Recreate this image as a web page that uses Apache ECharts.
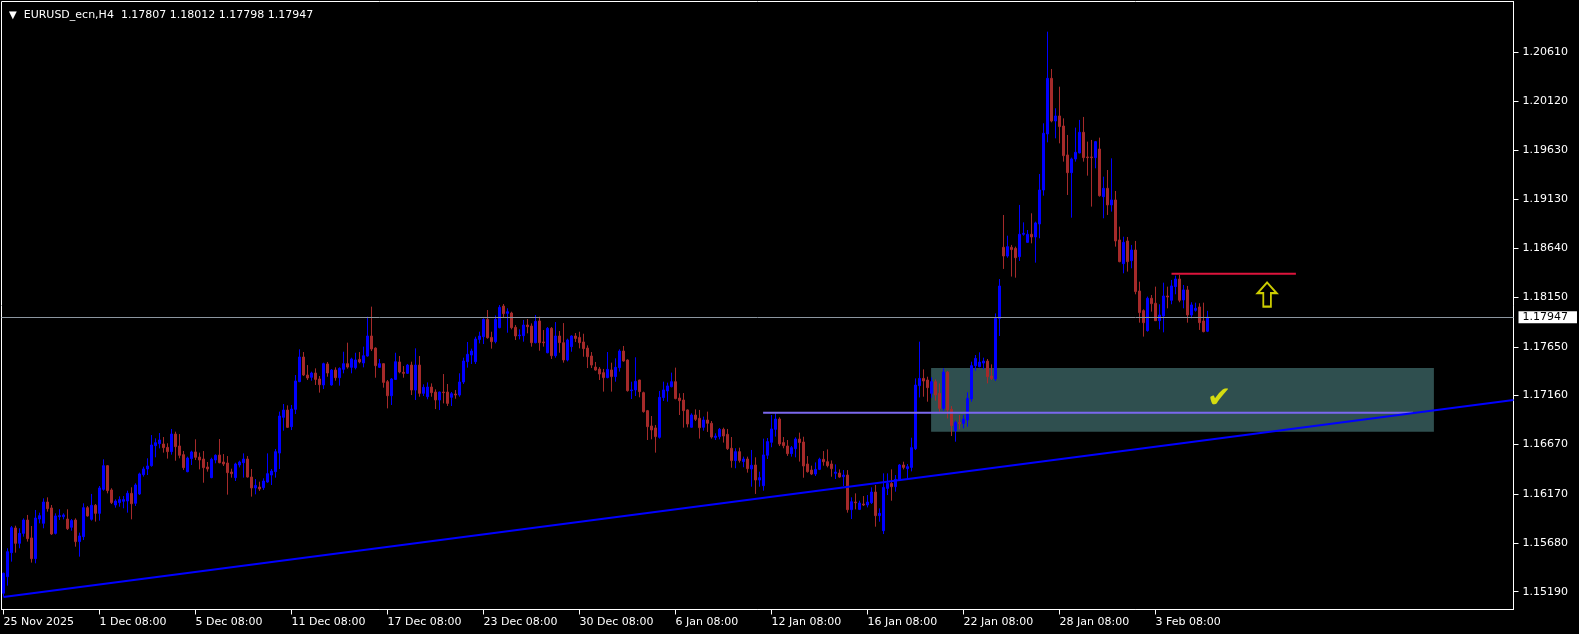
<!DOCTYPE html>
<html><head><meta charset="utf-8">
<script src="https://cdn.jsdelivr.net/npm/echarts@6/dist/echarts.min.js"></script>
<style>html,body{margin:0;padding:0;background:#000;}#c{width:1579px;height:634px;}</style>
</head><body><div id="c"></div>
<script>
const symbolName = 'EURUSD_ecn,H4';
const tickLabels = ['25 Nov 2025','1 Dec 08:00','5 Dec 08:00','11 Dec 08:00','17 Dec 08:00','23 Dec 08:00','30 Dec 08:00','6 Jan 08:00','12 Jan 08:00','16 Jan 08:00','22 Jan 08:00','28 Jan 08:00','3 Feb 08:00'];
const tickStep = 24;
const slotCount = 378;
const priceTicks = [1.15190,1.15680,1.16170,1.16670,1.17160,1.17650,1.18150,1.18640,1.19130,1.19630,1.20120,1.20610];
const yMin = 1.15011, yMax = 1.21120;

const open = [
1.15174,1.15341,1.15582,1.15830,1.15676,1.15776,1.15910,1.15730,1.15522,1.15920,
1.15877,1.16091,1.16031,1.15776,1.15944,1.15944,1.15920,1.15837,1.15910,1.15693,
1.15743,1.16034,1.15917,1.16058,1.15977,1.16218,1.16456,1.16212,1.16061,1.16085,
1.16098,1.16101,1.16178,1.16078,1.16172,1.16366,1.16423,1.16456,1.16657,1.16677,
1.16674,1.16640,1.16597,1.16774,1.16654,1.16567,1.16396,1.16527,1.16594,1.16543,
1.16523,1.16443,1.16336,1.16513,1.16563,1.16493,1.16483,1.16392,1.16336,1.16463,
1.16486,1.16523,1.16342,1.16232,1.16242,1.16235,1.16292,1.16362,1.16396,1.16583,
1.16942,1.17015,1.16848,1.17022,1.17300,1.17548,1.17367,1.17344,1.17387,1.17327,
1.17267,1.17478,1.17267,1.17417,1.17340,1.17424,1.17481,1.17444,1.17441,1.17524,
1.17488,1.17558,1.17759,1.17638,1.17444,1.17481,1.17300,1.17159,1.17323,1.17498,
1.17394,1.17384,1.17467,1.17216,1.17467,1.17183,1.17149,1.17246,1.17196,1.17116,
1.17196,1.17196,1.17143,1.17176,1.17166,1.17297,1.17501,1.17568,1.17501,1.17725,
1.17752,1.17926,1.17745,1.17702,1.17843,1.18060,1.17987,1.17990,1.17846,1.17762,
1.17762,1.17869,1.17859,1.17692,1.17910,1.17699,1.17591,1.17836,1.17561,1.17759,
1.17692,1.17518,1.17652,1.17759,1.17745,1.17699,1.17638,1.17558,1.17447,1.17427,
1.17391,1.17341,1.17418,1.17351,1.17441,1.17608,1.17518,1.17210,1.17217,1.17317,
1.17190,1.17009,1.16855,1.16835,1.16741,1.17140,1.17207,1.17250,1.17300,1.17136,
1.17116,1.17016,1.16842,1.16965,1.16932,1.16842,1.16915,1.16882,1.16738,1.16748,
1.16821,1.16771,1.16631,1.16507,1.16597,1.16497,1.16523,1.16423,1.16463,1.16312,
1.16255,1.16561,1.16691,1.16821,1.16925,1.16688,1.16654,1.16577,1.16627,1.16724,
1.16694,1.16473,1.16412,1.16372,1.16419,1.16520,1.16496,1.16473,1.16379,1.16382,
1.16345,1.16362,1.16014,1.16091,1.16017,1.16071,1.16061,1.16084,1.16191,1.15954,
1.15803,1.16228,1.16278,1.16245,1.16312,1.16463,1.16426,1.16439,1.16627,1.17260,
1.17333,1.17317,1.17183,1.17300,1.17183,1.17032,1.17397,1.17022,1.16808,1.16891,
1.16881,1.16915,1.17126,1.17461,1.17451,1.17487,1.17507,1.17357,1.17327,1.17936,
1.18650,1.18563,1.18650,1.18640,1.18556,1.18781,1.18700,1.18781,1.18754,1.18885,
1.19226,1.19789,1.20348,1.19919,1.19970,1.19869,1.19578,1.19400,1.19538,1.19598,
1.19806,1.19558,1.19558,1.19551,1.19638,1.19159,1.19243,1.19076,1.19126,1.18724,
1.18486,1.18714,1.18516,1.18623,1.18211,1.18014,1.17813,1.18138,1.18088,1.17913,
1.17960,1.18161,1.18118,1.18255,1.18332,1.18121,1.18222,1.17970,1.18017,1.18051,
1.17910,1.17807];

const high = [
1.15381,1.15626,1.15850,1.15853,1.15827,1.15927,1.15961,1.15850,1.16011,1.15984,
1.16128,1.16138,1.16061,1.15977,1.16018,1.15977,1.16018,1.15920,1.15927,1.15783,
1.16078,1.16051,1.16172,1.16071,1.16252,1.16520,1.16463,1.16229,1.16118,1.16148,
1.16151,1.16205,1.16239,1.16279,1.16386,1.16446,1.16530,1.16764,1.16731,1.16784,
1.16744,1.16681,1.16825,1.16798,1.16774,1.16604,1.16547,1.16607,1.16721,1.16587,
1.16603,1.16493,1.16536,1.16570,1.16724,1.16573,1.16553,1.16426,1.16486,1.16506,
1.16580,1.16553,1.16423,1.16322,1.16295,1.16329,1.16580,1.16423,1.16624,1.16999,
1.17076,1.17062,1.17066,1.17367,1.17625,1.17598,1.17467,1.17400,1.17434,1.17357,
1.17491,1.17498,1.17427,1.17444,1.17444,1.17601,1.17692,1.17541,1.17591,1.17598,
1.17652,1.17953,1.18054,1.17645,1.17528,1.17485,1.17317,1.17337,1.17591,1.17558,
1.17457,1.17478,1.17501,1.17635,1.17558,1.17273,1.17293,1.17283,1.17223,1.17200,
1.17377,1.17277,1.17196,1.17216,1.17384,1.17541,1.17699,1.17632,1.17752,1.17802,
1.17936,1.18020,1.17802,1.17966,1.18070,1.18080,1.18037,1.18003,1.17869,1.17826,
1.17920,1.17930,1.17886,1.17970,1.17953,1.17819,1.17849,1.17849,1.17899,1.17809,
1.17889,1.17732,1.17766,1.17789,1.17802,1.17782,1.17665,1.17598,1.17498,1.17447,
1.17428,1.17598,1.17491,1.17535,1.17625,1.17659,1.17525,1.17300,1.17545,1.17320,
1.17200,1.17016,1.16955,1.16865,1.17207,1.17300,1.17290,1.17391,1.17441,1.17183,
1.17186,1.17022,1.16982,1.17022,1.17016,1.16949,1.16999,1.16905,1.16781,1.16835,
1.16838,1.16825,1.16744,1.16631,1.16637,1.16547,1.16547,1.16614,1.16540,1.16396,
1.16728,1.16734,1.16965,1.16982,1.16942,1.16744,1.16714,1.16654,1.16741,1.16788,
1.16747,1.16553,1.16456,1.16489,1.16536,1.16603,1.16620,1.16509,1.16469,1.16419,
1.16412,1.16412,1.16138,1.16178,1.16104,1.16151,1.16161,1.16238,1.16262,1.16027,
1.16379,1.16379,1.16419,1.16362,1.16473,1.16496,1.16473,1.16737,1.17333,1.17702,
1.17424,1.17350,1.17343,1.17323,1.17283,1.17434,1.17407,1.17055,1.16908,1.16965,
1.16965,1.17193,1.17501,1.17568,1.17595,1.17541,1.17528,1.17474,1.17986,1.18331,
1.18975,1.18767,1.18674,1.18657,1.19076,1.18901,1.18824,1.18992,1.18908,1.19387,
1.19896,1.20817,1.20442,1.20047,1.20264,1.19946,1.19779,1.19551,1.19853,1.19930,
1.19960,1.19712,1.19729,1.19719,1.19752,1.19360,1.19427,1.19544,1.19216,1.18858,
1.18757,1.18754,1.18674,1.18714,1.18305,1.18027,1.18155,1.18171,1.18255,1.18078,
1.18295,1.18255,1.18322,1.18366,1.18372,1.18272,1.18262,1.18098,1.18094,1.18088,
1.18094,1.18012];

const low = [
1.15140,1.15251,1.15492,1.15582,1.15626,1.15743,1.15693,1.15482,1.15475,1.15877,
1.15827,1.15994,1.15760,1.15765,1.15910,1.15917,1.15810,1.15803,1.15642,1.15542,
1.15709,1.15944,1.15904,1.15894,1.15904,1.16205,1.16178,1.16071,1.16034,1.16044,
1.16028,1.15984,1.15917,1.16051,1.16162,1.16346,1.16362,1.16446,1.16540,1.16630,
1.16587,1.16527,1.16567,1.16506,1.16530,1.16413,1.16390,1.16463,1.16513,1.16419,
1.16285,1.16396,1.16330,1.16480,1.16480,1.16453,1.16165,1.16336,1.16302,1.16439,
1.16336,1.16336,1.16145,1.16168,1.16202,1.16212,1.16285,1.16262,1.16336,1.16423,
1.16808,1.16835,1.16814,1.16975,1.17295,1.17357,1.17317,1.17310,1.17267,1.17190,
1.17226,1.17350,1.17260,1.17310,1.17260,1.17384,1.17431,1.17384,1.17424,1.17484,
1.17444,1.17551,1.17608,1.17340,1.17438,1.17240,1.17032,1.17066,1.17317,1.17384,
1.17340,1.17377,1.17166,1.17116,1.17149,1.17156,1.17123,1.17149,1.17025,1.17015,
1.17082,1.17056,1.17056,1.17129,1.17149,1.17277,1.17441,1.17478,1.17478,1.17685,
1.17678,1.17732,1.17632,1.17685,1.17836,1.17946,1.17792,1.17826,1.17719,1.17725,
1.17702,1.17786,1.17652,1.17685,1.17611,1.17652,1.17585,1.17528,1.17541,1.17591,
1.17491,1.17504,1.17601,1.17699,1.17635,1.17551,1.17437,1.17437,1.17411,1.17317,
1.17200,1.17334,1.17200,1.17300,1.17401,1.17501,1.17200,1.17126,1.17156,1.17143,
1.16989,1.16714,1.16721,1.16587,1.16728,1.17106,1.17099,1.17243,1.17123,1.16965,
1.16838,1.16841,1.16840,1.16905,1.16728,1.16808,1.16795,1.16728,1.16714,1.16721,
1.16688,1.16614,1.16436,1.16430,1.16487,1.16440,1.16386,1.16245,1.16172,1.16245,
1.16205,1.16523,1.16641,1.16748,1.16654,1.16631,1.16554,1.16547,1.16540,1.16497,
1.16335,1.16386,1.16362,1.16352,1.16412,1.16456,1.16439,1.16345,1.16322,1.16335,
1.16252,1.15984,1.15920,1.16017,1.16010,1.16051,1.16037,1.16071,1.15843,1.15893,
1.15769,1.16161,1.16104,1.16195,1.16305,1.16419,1.16312,1.16399,1.16613,1.17142,
1.17149,1.17099,1.17139,1.17109,1.16998,1.17008,1.16931,1.16754,1.16697,1.16821,
1.16831,1.16848,1.17099,1.17410,1.17444,1.17427,1.17283,1.17317,1.17307,1.17759,
1.18433,1.18546,1.18356,1.18345,1.18513,1.18767,1.18695,1.18690,1.18496,1.18741,
1.19169,1.19705,1.19906,1.19745,1.19695,1.19511,1.19176,1.18948,1.19511,1.19595,
1.19511,1.19370,1.19059,1.19444,1.19159,1.18942,1.18975,1.19009,1.18657,1.18500,
1.18389,1.18406,1.18439,1.18178,1.17893,1.17753,1.17803,1.18004,1.17910,1.17826,
1.17796,1.18037,1.18078,1.18178,1.18098,1.18037,1.17893,1.17937,1.18004,1.17820,
1.17796,1.17798];

const close = [
1.15375,1.15592,1.15833,1.15676,1.15776,1.15910,1.15723,1.15522,1.15930,1.15954,
1.16091,1.16024,1.15770,1.15951,1.15954,1.15961,1.15823,1.15904,1.15693,1.15750,
1.16034,1.15951,1.16058,1.15977,1.16232,1.16456,1.16205,1.16085,1.16101,1.16115,
1.16115,1.16178,1.16074,1.16262,1.16373,1.16423,1.16453,1.16664,1.16687,1.16714,
1.16637,1.16597,1.16774,1.16647,1.16560,1.16436,1.16533,1.16594,1.16540,1.16513,
1.16436,1.16423,1.16520,1.16560,1.16486,1.16473,1.16386,1.16376,1.16473,1.16493,
1.16523,1.16342,1.16232,1.16258,1.16222,1.16302,1.16376,1.16402,1.16597,1.16955,
1.17015,1.16841,1.17025,1.17307,1.17548,1.17367,1.17337,1.17387,1.17323,1.17270,
1.17481,1.17387,1.17417,1.17340,1.17434,1.17481,1.17447,1.17528,1.17518,1.17498,
1.17561,1.17759,1.17628,1.17461,1.17481,1.17293,1.17159,1.17327,1.17501,1.17397,
1.17384,1.17467,1.17216,1.17467,1.17183,1.17243,1.17246,1.17190,1.17116,1.17196,
1.17190,1.17082,1.17179,1.17166,1.17297,1.17508,1.17575,1.17608,1.17729,1.17759,
1.17926,1.17742,1.17702,1.17926,1.18047,1.17983,1.18003,1.17843,1.17759,1.17769,
1.17869,1.17853,1.17692,1.17906,1.17692,1.17692,1.17836,1.17561,1.17759,1.17692,
1.17518,1.17719,1.17759,1.17735,1.17692,1.17632,1.17551,1.17467,1.17417,1.17377,
1.17341,1.17424,1.17351,1.17444,1.17608,1.17508,1.17210,1.17217,1.17304,1.17200,
1.16999,1.16848,1.16815,1.16748,1.17143,1.17217,1.17257,1.17300,1.17130,1.17109,
1.17009,1.16875,1.16965,1.16922,1.16838,1.16915,1.16882,1.16744,1.16754,1.16821,
1.16754,1.16627,1.16507,1.16597,1.16507,1.16523,1.16426,1.16460,1.16312,1.16336,
1.16564,1.16698,1.16825,1.16925,1.16674,1.16657,1.16577,1.16637,1.16724,1.16688,
1.16453,1.16396,1.16372,1.16419,1.16520,1.16496,1.16456,1.16426,1.16392,1.16342,
1.16362,1.16014,1.16094,1.16084,1.16081,1.16061,1.16091,1.16191,1.15954,1.15977,
1.16238,1.16278,1.16245,1.16319,1.16463,1.16439,1.16446,1.16637,1.17266,1.17333,
1.17307,1.17240,1.17300,1.17166,1.17032,1.17397,1.17015,1.16858,1.16891,1.16878,
1.16925,1.17132,1.17461,1.17534,1.17497,1.17507,1.17350,1.17333,1.17936,1.18261,
1.18563,1.18657,1.18627,1.18546,1.18781,1.18791,1.18781,1.18754,1.18895,1.19226,
1.19796,1.20348,1.19919,1.19970,1.19863,1.19571,1.19400,1.19538,1.19605,1.19806,
1.19551,1.19551,1.19551,1.19712,1.19169,1.19243,1.19076,1.19126,1.18714,1.18506,
1.18700,1.18506,1.18623,1.18205,1.17994,1.17893,1.18138,1.18084,1.17913,1.17970,
1.18161,1.18151,1.18262,1.18332,1.18118,1.18222,1.17970,1.18071,1.18037,1.17893,
1.17803,1.17947];

// annotation objects (bar index on the slot scale, price)
const trendBars = [0, 377.5], trendPrices = [1.15136, 1.17115];
const levelBars = [189.9, 352.4], levelPrice = 1.16988;
const resistBars = [292.0, 323.1], resistPrice = 1.18385;
const zoneBars = [231.9, 357.6], zonePrices = [1.17437, 1.16797];
const arrowPoint = [315.9, 1.18176];
const checkPoint = [303.9, 1.17120];

const FONT = 'DejaVu Sans';
const last = close.length - 1;
const fmt = v => v.toFixed(5);
const categories = Array.from({length: slotCount}, (_, i) => String(i));
const candles = open.map((o, i) => [o, close[i], low[i], high[i]]);
const showTick = idx => idx % tickStep === 0 && idx / tickStep < tickLabels.length;

const chart = echarts.init(document.getElementById('c'), null, {renderer: 'canvas'});
chart.setOption({
  animation: false,
  backgroundColor: '#000',
  title: {
    left: 4, top: 5,
    text: '{tri|▼}  ' + symbolName + '  ' + [open[last], high[last], low[last], close[last]].map(fmt).join(' '),
    textStyle: {color: '#fff', fontSize: 11, fontWeight: 'normal', fontFamily: FONT,
      rich: {tri: {fontSize: 10, color: '#fff', fontFamily: FONT}}}
  },
  grid: {left: 1.5, top: 1.5, width: slotCount * 4, height: 608, show: true,
    borderColor: '#fff', borderWidth: 1},
  xAxis: [{
    type: 'category', data: categories, boundaryGap: true,
    axisLine: {show: true, onZero: false, lineStyle: {color: '#fff', width: 1}},
    axisTick: {show: true, interval: showTick, alignWithLabel: true, length: 5, lineStyle: {color: '#fff', width: 1}},
    axisLabel: {interval: showTick, formatter: (v, idx) => tickLabels[Number(v) / tickStep] || '',
      color: '#fff', fontSize: 11, fontFamily: FONT, align: 'left', margin: 7},
    splitLine: {show: false}
  }, {
    type: 'value', min: -0.5, max: slotCount - 0.5, show: false
  }],
  yAxis: {
    type: 'value', position: 'right', min: yMin, max: yMax,
    axisLine: {show: true, onZero: false, lineStyle: {color: '#fff', width: 1}}, splitLine: {show: false},
    axisTick: {show: true, customValues: priceTicks, length: 5, lineStyle: {color: '#fff', width: 1}},
    axisLabel: {customValues: priceTicks, formatter: fmt, color: '#fff', fontSize: 11,
      fontFamily: FONT, margin: 9}
  },
  series: [
    {
      type: 'line', xAxisIndex: 1, data: [[zoneBars[0], zonePrices[0]]], symbol: 'none',
      lineStyle: {width: 0}, z: 1, silent: true,
      markArea: {silent: true, itemStyle: {color: '#2F4F4F', opacity: 1},
        data: [[{coord: [zoneBars[0], zonePrices[0]]}, {coord: [zoneBars[1], zonePrices[1]]}]]}
    },
    {
      type: 'candlestick', data: candles, barWidth: 2, z: 2,
      itemStyle: {color: '#0000FF', color0: '#A52A2A', borderColor: '#0000FF', borderColor0: '#A52A2A', borderWidth: 1},
      markLine: {
        silent: true, symbol: ['none', 'none'], animation: false, precision: 5,
        lineStyle: {color: '#8c96a0', width: 1, type: 'solid'},
        label: {show: true, position: 'end', formatter: fmt(close[last]), backgroundColor: '#fff',
          color: '#000', fontSize: 11, fontFamily: FONT, padding: [1, 9, 0, 4], distance: 5},
        data: [{yAxis: close[last]}]
      }
    },
    {
      type: 'line', xAxisIndex: 1, symbol: 'none', z: 3, silent: true,
      data: [[levelBars[0], levelPrice], [levelBars[1], levelPrice]],
      lineStyle: {color: '#7B68EE', width: 2}
    },
    {
      type: 'line', xAxisIndex: 1, symbol: 'none', z: 4, silent: true,
      data: [[trendBars[0], trendPrices[0]], [trendBars[1], trendPrices[1]]],
      lineStyle: {color: '#0000FF', width: 2}
    },
    {
      type: 'line', xAxisIndex: 1, symbol: 'none', z: 4, silent: true,
      data: [[resistBars[0], resistPrice], [resistBars[1], resistPrice]],
      lineStyle: {color: '#DC143C', width: 2}
    },
    {
      type: 'scatter', xAxisIndex: 1, z: 5, silent: true,
      data: [arrowPoint],
      symbol: 'path://M10,0 L20,11 L14,11 L14,25 L6,25 L6,11 L0,11 Z',
      symbolSize: [19, 24],
      itemStyle: {color: 'rgba(0,0,0,0)', borderColor: '#FFFF00', borderWidth: 2}
    },
    {
      type: 'scatter', xAxisIndex: 1, z: 5, silent: true,
      data: [checkPoint], symbolSize: 0,
      label: {show: true, position: 'inside', formatter: '✔', color: '#FFFF00', fontSize: 29, fontFamily: FONT}
    }
  ]
});
</script></body></html>
